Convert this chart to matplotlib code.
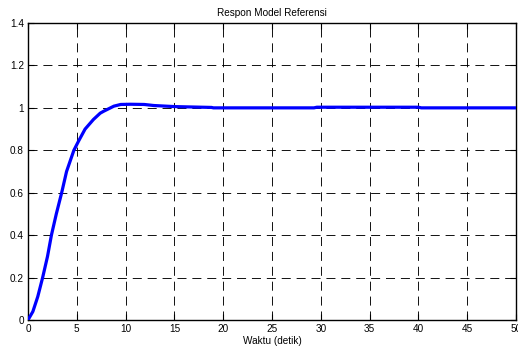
import matplotlib
matplotlib.use("Agg")
import matplotlib.pyplot as plt

# step response
waktu = [0, 0.5, 1.0, 1.5, 2.0, 2.4, 2.9, 3.45, 3.95, 4.7, 5.2, 5.85, 6.7, 7.4, 7.75,
         8.8, 9.5, 10.5, 11.9, 12.9, 15.0, 18.8, 19.0, 29.3, 29.6, 40.0, 40.3, 50.0]
respon = [0, 0.04, 0.11, 0.20, 0.30, 0.40, 0.50, 0.60, 0.70, 0.80, 0.845, 0.90, 0.945, 0.975, 0.984,
          1.008, 1.016, 1.017, 1.016, 1.011, 1.006, 1.002, 1.0, 1.0, 1.003, 1.003, 1.0, 1.0]

x_ticks = [0, 5, 10, 15, 20, 25, 30, 35, 40, 45, 50]
y_ticks = [0, 0.2, 0.4, 0.6, 0.8, 1, 1.2, 1.4]
y_labels = ["0", "0.2", "0.4", "0.6", "0.8", "1", "1.2", "1.4"]

plt.rcParams['font.family'] = ['Liberation Sans', 'DejaVu Sans']

fig = plt.figure(figsize=(5.18, 3.54), dpi=100)
ax = fig.add_axes([28 / 518, 34 / 354, 488 / 518, 297 / 354])

ax.plot(waktu, respon, color='#0000ff', linewidth=2.3, solid_joinstyle='round', zorder=3)

ax.set_xlim(0, 50)
ax.set_ylim(0, 1.4)
ax.set_xticks(x_ticks)
ax.set_yticks(y_ticks)
ax.set_yticklabels(y_labels)
ax.tick_params(direction='in', length=4, width=0.8, labelsize=7.2, pad=3,
               top=True, right=True, colors='black')
# MATLAB-like long dashes
ax.grid(True, color='black', linestyle=(0, (10, 6.5)), linewidth=0.65)
for s in ax.spines.values():
    s.set_linewidth(1.0)

ax.set_title("Respon Model Referensi", fontsize=7.2, pad=5)
ax.set_xlabel("Waktu (detik)", fontsize=7.2, labelpad=1)

fig.savefig("out.png", dpi=100)
